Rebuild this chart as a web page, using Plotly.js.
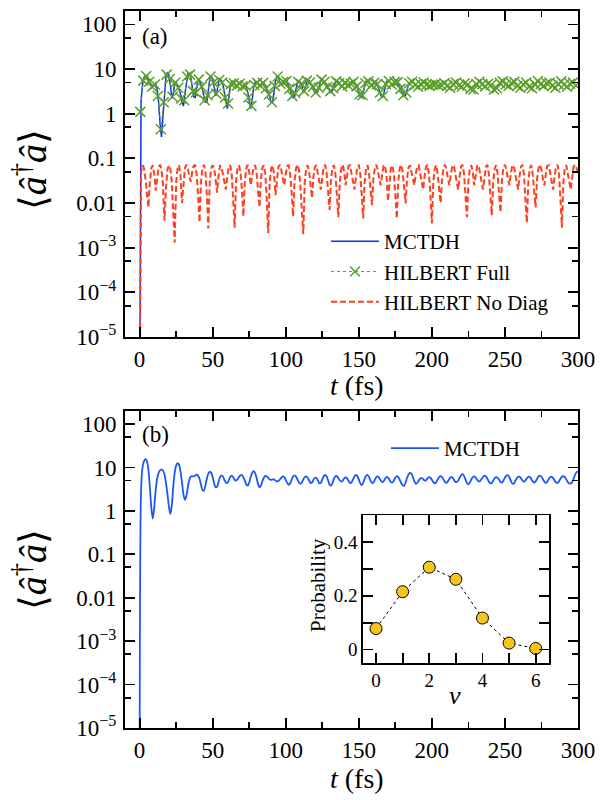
<!DOCTYPE html>
<html><head><meta charset="utf-8">
<script src="https://cdn.plot.ly/plotly-3.0.1.min.js"></script>
<style>body{margin:0;background:#fff}#c{width:600px;height:800px}</style>
</head><body><div id="c"></div>
<script>
// ---------- DATA ----------
// Panel (a): MCTDH, t = 0..185 fs, step 1 fs
const mctdhA = [1e-7,2.0,4.5,6.5,7.2,7.0,5.8,4.8,4.2,4.0,4.4,4.6,3.5,1.8,0.6,0.3,0.9,3.0,6.5,8.4,7.5,4.5,2.2,2.8,4.8,5.0,4.2,3.5,2.8,1.8,1.5,2.8,5.5,7.8,8.0,6.5,4.0,2.4,2.3,4.0,6.0,5.5,4.5,3.5,2.4,1.8,1.8,3.5,6.0,7.0,6.0,4.0,2.5,3.2,5.0,6.0,5.5,4.5,3.0,1.7,1.3,2.2,4.0,5.2,5.0,4.5,4.2,4.5,4.8,4.6,4.2,4.0,4.4,4.0,3.0,1.8,1.3,2.0,3.8,5.0,5.2,4.6,4.2,4.5,5.0,4.8,4.0,3.5,3.0,2.4,1.8,1.8,3.0,5.5,7.0,6.5,5.0,4.5,5.0,5.5,5.8,5.0,4.0,3.3,2.7,2.3,2.4,3.5,5.0,5.5,5.0,4.2,3.0,3.5,5.0,6.0,5.5,4.6,4.2,3.8,3.2,2.8,3.2,4.5,5.5,6.0,5.5,4.8,4.2,3.8,3.5,3.0,3.3,4.2,5.0,5.5,5.2,4.5,4.0,4.2,4.8,5.0,4.6,4.2,4.4,5.0,5.4,5.0,4.5,3.8,3.0,2.4,2.3,3.0,4.3,5.4,5.6,5.0,4.4,4.2,4.6,5.2,5.0,4.2,3.4,2.6,2.3,2.8,4.0,5.2,5.6,5.2,4.6,4.4,4.8,5.4,5.5,4.8,4.0,3.3,2.8,2.5,2.6,3.4,4.5,5.0];
// Panel (a): HILBERT Full, t = 0.5..298.5 fs, step 2 fs
const hilbertFull = [1.1,5.5,7.0,5.2,4.0,4.5,2.5,0.45,1.8,7.5,6.0,2.4,5.0,3.8,2.2,2.0,6.8,7.5,3.2,3.0,5.8,4.0,2.0,2.6,6.8,5.0,2.8,5.7,5.0,2.3,1.7,4.6,4.8,4.3,4.7,4.1,4.3,2.3,1.5,4.4,4.9,4.3,4.9,3.7,2.7,1.8,4.2,6.8,4.7,5.2,5.4,3.6,2.5,2.9,5.2,4.6,3.2,5.5,5.0,4.0,3.0,3.8,5.8,5.2,4.0,3.2,3.7,5.3,4.8,4.1,4.9,4.4,4.7,5.2,4.1,2.7,2.6,4.8,5.3,4.3,4.9,4.6,3.0,2.5,4.6,5.4,4.5,5.1,5.1,3.6,2.6,3.0,4.8,5.2,4.4,4.0,4.6,5.0,4.5,4.2,4.5,4.6,4.3,4.4,4.8,4.2,3.8,4.6,5.0,4.3,4.0,4.8,4.5,3.6,3.5,4.6,5.2,4.6,4.1,4.7,4.4,3.5,3.7,4.9,5.3,4.5,4.2,4.8,5.2,4.2,3.8,4.5,5.0,4.0,3.7,4.6,5.4,4.6,4.2,4.8,5.0,4.2,3.8,4.6,5.3,4.5,4.0,4.7,5.0,4.3];
// Panel (a): HILBERT No Diag, t = 0..300 fs, step 1 fs
const hilbertNoDiag = [1e-7,0.05,0.07,0.06,0.035,0.018,0.008,0.03,0.06,0.07,0.045,0.019,0.04,0.065,0.072,0.055,0.025,0.004,0.02,0.055,0.07,0.06,0.03,0.008,0.0013,0.03,0.06,0.07,0.04,0.01,0.03,0.06,0.072,0.06,0.04,0.03,0.05,0.068,0.07,0.045,0.015,0.0037,0.03,0.06,0.072,0.05,0.015,0.0027,0.03,0.06,0.07,0.06,0.035,0.017,0.04,0.068,0.065,0.045,0.028,0.02,0.04,0.065,0.07,0.045,0.012,0.0028,0.03,0.06,0.07,0.05,0.02,0.005,0.03,0.06,0.072,0.05,0.025,0.04,0.065,0.07,0.05,0.02,0.008,0.035,0.062,0.07,0.045,0.012,0.0021,0.03,0.06,0.07,0.045,0.015,0.04,0.065,0.072,0.055,0.035,0.025,0.045,0.068,0.07,0.045,0.018,0.005,0.03,0.06,0.072,0.055,0.025,0.008,0.002,0.03,0.06,0.07,0.05,0.025,0.013,0.04,0.065,0.07,0.05,0.03,0.02,0.04,0.065,0.072,0.045,0.018,0.007,0.035,0.062,0.07,0.045,0.015,0.0048,0.03,0.06,0.072,0.05,0.025,0.045,0.068,0.07,0.05,0.03,0.02,0.04,0.065,0.072,0.045,0.015,0.0045,0.03,0.06,0.07,0.045,0.02,0.009,0.035,0.062,0.072,0.055,0.035,0.025,0.045,0.068,0.07,0.04,0.011,0.035,0.062,0.07,0.045,0.015,0.0045,0.03,0.06,0.072,0.05,0.022,0.0098,0.035,0.062,0.07,0.05,0.03,0.025,0.045,0.068,0.07,0.045,0.028,0.02,0.04,0.065,0.072,0.045,0.015,0.0035,0.03,0.06,0.07,0.045,0.02,0.01,0.035,0.062,0.072,0.055,0.035,0.025,0.045,0.068,0.07,0.045,0.028,0.02,0.04,0.065,0.072,0.045,0.015,0.0048,0.03,0.06,0.07,0.05,0.025,0.045,0.068,0.07,0.05,0.03,0.02,0.04,0.065,0.072,0.045,0.015,0.0053,0.03,0.06,0.07,0.045,0.015,0.0062,0.035,0.062,0.072,0.055,0.035,0.025,0.045,0.068,0.07,0.045,0.028,0.02,0.04,0.065,0.072,0.045,0.012,0.0036,0.03,0.06,0.07,0.045,0.018,0.008,0.035,0.062,0.072,0.055,0.035,0.025,0.045,0.068,0.07,0.045,0.028,0.02,0.04,0.065,0.072,0.045,0.012,0.0028,0.03,0.06,0.07,0.05,0.03,0.02,0.04,0.065,0.072,0.06,0.05];
// Panel (b): MCTDH, t = 0..300 fs, step 1 fs
const mctdhB = [1e-7,3,10,14,15.5,14,9,3.5,1.2,0.66,1.2,3.0,5.5,7.5,8.6,8.9,8.5,7.0,4.5,2.5,1.3,0.85,1.3,3.5,7.5,11,12.5,11.5,8,4.5,2.4,1.8,2.2,3.5,5.2,6.2,6.3,6.2,6.5,6.8,6.5,5.5,4.0,3.0,2.9,3.8,5.5,7.2,8.0,7.5,6.0,4.3,3.5,3.6,4.6,6.0,6.6,6.2,5.2,4.5,4.4,5.0,6.0,6.5,6.0,5.2,5.0,5.3,6.0,6.6,6.7,6.0,5.0,4.0,3.8,4.5,6.0,7.5,8.2,7.5,5.8,4.2,3.5,3.8,4.8,5.8,6.4,6.3,5.8,5.3,5.2,5.3,5.3,5.0,4.8,4.9,5.3,5.8,6.2,6.0,5.2,4.4,4.0,4.3,5.2,6.2,6.6,6.2,5.3,4.5,4.2,4.5,5.3,6.0,6.2,5.8,5.0,4.4,4.5,5.2,5.8,5.7,5.0,4.3,4.4,5.3,6.3,6.7,6.2,5.0,4.0,3.8,4.4,5.5,6.3,6.3,5.7,5.0,4.7,5.0,5.6,5.9,5.6,4.9,4.4,4.5,5.3,6.2,6.7,6.3,5.3,4.3,3.9,4.4,5.5,6.5,6.7,6.0,5.0,4.4,4.5,5.2,6.0,6.2,5.7,5.0,4.6,4.8,5.5,6.0,5.9,5.2,4.6,4.5,5.0,5.8,6.3,6.0,5.2,4.4,3.9,3.8,4.5,5.7,6.9,7.5,7.2,6.0,4.8,4.2,4.4,5.0,5.6,5.7,5.4,5.0,5.1,5.6,6.0,5.8,5.2,4.6,4.3,4.6,5.3,6.0,6.3,6.0,5.3,4.6,4.4,4.8,5.5,6.0,5.9,5.3,4.7,4.6,5.0,5.8,6.6,7.0,6.4,5.3,4.4,4.1,4.5,5.3,6.0,6.2,5.8,5.2,4.8,4.9,5.4,6.1,6.5,6.2,5.5,4.7,4.3,4.4,5.0,5.7,6.0,5.8,5.2,4.6,4.5,5.0,5.8,6.5,6.6,6.0,5.0,4.3,4.2,4.8,5.6,6.1,6.1,5.6,5.0,4.7,5.0,5.6,6.1,6.0,5.4,4.8,4.5,4.8,5.5,6.2,6.5,6.1,5.4,4.7,4.4,4.7,5.4,6.0,6.1,5.7,5.0,4.5,4.4,4.8,5.5,6.1,6.3,6.0,5.3,4.6,4.3,4.3,4.6,5.5,6.8,7.8,8.0];
// Inset: probability distribution
const nu = [0,1,2,3,4,5,6];
const prob = [0.078,0.215,0.306,0.261,0.117,0.024,0.004];
// Tick labels
const yTickVals = [100,10,1,0.1,0.01,0.001,1e-4,1e-5];
const yTickText = ['100','10','1','0.1','0.01','10<sup>\u22123</sup>','10<sup>\u22124</sup>','10<sup>\u22125</sup>'];
const yMinorVals = [50,5,0.5,0.05,0.005,5e-4,5e-5];
const xTickVals = [0,50,100,150,200,250,300];
const insetXVals = [0,2,4,6];
const insetYVals = [0,0.2,0.4];
const insetYText = ['0','0.2','0.4'];

// ---------- STYLE ----------
const FONT = '"Liberation Serif", "DejaVu Serif", serif';
const BLUE_A = '#1030f0', BLUE_B = '#1d55ff', GREEN = '#5a9e2a', RED = '#ff4020';

const traces = [
  {x0:0, dx:1, y:mctdhA, type:'scatter', mode:'lines', name:'MCTDH',
   line:{color:BLUE_A, width:1.5}, xaxis:'x', yaxis:'y', legend:'legend'},
  {x0:0.5, dx:2, y:hilbertFull, type:'scatter', mode:'lines+markers', name:'HILBERT Full',
   line:{color:GREEN, width:1, dash:'dot'},
   marker:{symbol:'x-thin', size:10, color:GREEN, line:{color:GREEN, width:1.5}},
   xaxis:'x', yaxis:'y', legend:'legend'},
  {x0:0, dx:1, y:hilbertNoDiag, type:'scatter', mode:'lines', name:'HILBERT No Diag',
   line:{color:RED, width:2, dash:'6px,3px'}, xaxis:'x', yaxis:'y', legend:'legend'},
  {x0:0, dx:1, y:mctdhB, type:'scatter', mode:'lines', name:'MCTDH',
   line:{color:BLUE_B, width:1.8, shape:'spline', smoothing:0.8}, xaxis:'x2', yaxis:'y2', legend:'legend2'},
  {x:nu, y:prob, type:'scatter', mode:'lines+markers', showlegend:false,
   line:{color:'#000', width:1, dash:'dot'},
   marker:{symbol:'circle', size:12, color:'#f8c51c', line:{color:'#000', width:1}},
   xaxis:'x3', yaxis:'y3'}
];

const axBase = {
  showline:true, linecolor:'#000', linewidth:2, mirror:'allticks',
  ticks:'inside', ticklen:10, tickwidth:1.8, tickcolor:'#000',
  showgrid:false, zeroline:false, tickfont:{family:FONT, size:23, color:'#000'}
};
function xMain(anchor){
  return Object.assign({}, axBase, {
    domain:[125/600, 578/600], range:[-10, 300], anchor:anchor,
    tickmode:'array', tickvals:xTickVals,
    minor:{dtick:25, tick0:0, ticklen:6, tickwidth:1.8, tickcolor:'#000', ticks:'inside'}
  });
}
function yMain(domain, anchor){
  return Object.assign({}, axBase, {
    type:'log', domain:domain, range:[-5, 2.3], anchor:anchor,
    tickmode:'array', tickvals:yTickVals, ticktext:yTickText, ticklabelstandoff:2,
    minor:{tickmode:'array', tickvals:yMinorVals, ticklen:6, tickwidth:1.8, tickcolor:'#000', ticks:'inside'}
  });
}

const layout = {
  width:600, height:800,
  margin:{l:0, r:0, t:0, b:0},
  paper_bgcolor:'#fff', plot_bgcolor:'#fff',
  font:{family:FONT, color:'#000'},
  xaxis: xMain('y'),
  yaxis: yMain([1-337/800, 1-11/800], 'x'),
  xaxis2: xMain('y2'),
  yaxis2: yMain([1-728/800, 1-411/800], 'x2'),
  xaxis3: Object.assign({}, axBase, {
    domain:[362.7/600, 549/600], range:[-0.5, 6.5], anchor:'y3',
    tickmode:'array', tickvals:insetXVals,
    minor:{dtick:1, tick0:0, ticklen:10, tickwidth:1.8, tickcolor:'#000', ticks:'inside'},
    linewidth:1.5, tickfont:{family:FONT, size:19, color:'#000'}
  }),
  yaxis3: Object.assign({}, axBase, {
    domain:[1-663/800, 1-515/800], range:[-0.05, 0.5], anchor:'x3',
    tickmode:'array', tickvals:insetYVals, ticktext:insetYText,
    minor:{dtick:0.1, tick0:0, ticklen:10, tickwidth:1.8, tickcolor:'#000', ticks:'inside'},
    linewidth:1.5, tickfont:{family:FONT, size:19, color:'#000'}
  }),
  legend:{x:326/600, y:1-221/800, xanchor:'left', yanchor:'top',
    bgcolor:'rgba(0,0,0,0)', font:{family:FONT, size:21, color:'#000'},
    itemwidth:48, tracegroupgap:0, traceorder:'normal'},
  legend2:{x:386/600, y:1-428/800, xanchor:'left', yanchor:'top',
    bgcolor:'rgba(0,0,0,0)', font:{family:FONT, size:21, color:'#000'}, itemwidth:48},
  annotations:[
    {text:'(a)', x:140/600, y:1-36/800, xref:'paper', yref:'paper', xanchor:'left', yanchor:'middle', showarrow:false, font:{family:FONT, size:23}},
    {text:'(b)', x:140/600, y:1-435/800, xref:'paper', yref:'paper', xanchor:'left', yanchor:'middle', showarrow:false, font:{family:FONT, size:23}},
    {text:'\u27E8<i>\u00E2</i><sup>\u2020</sup><i>\u00E2</i>\u27E9', x:30/600, y:1-170/800, xref:'paper', yref:'paper', xanchor:'center', yanchor:'middle', textangle:-90, showarrow:false, font:{family:FONT, size:38}},
    {text:'\u27E8<i>\u00E2</i><sup>\u2020</sup><i>\u00E2</i>\u27E9', x:30/600, y:1-570/800, xref:'paper', yref:'paper', xanchor:'center', yanchor:'middle', textangle:-90, showarrow:false, font:{family:FONT, size:38}},
    {text:'<i>t</i> (fs)', x:357/600, y:1-386/800, xref:'paper', yref:'paper', xanchor:'center', yanchor:'middle', showarrow:false, font:{family:FONT, size:28}},
    {text:'<i>t</i> (fs)', x:357/600, y:1-778/800, xref:'paper', yref:'paper', xanchor:'center', yanchor:'middle', showarrow:false, font:{family:FONT, size:28}},
    {text:'Probability', x:318/600, y:1-585/800, xref:'paper', yref:'paper', xanchor:'center', yanchor:'middle', textangle:-90, showarrow:false, font:{family:FONT, size:21}},
    {text:'<i>\u03BD</i>', x:455/600, y:1-695/800, xref:'paper', yref:'paper', xanchor:'center', yanchor:'middle', showarrow:false, font:{family:FONT, size:26}}
  ]
};

Plotly.newPlot('c', traces, layout, {staticPlot:true, displayModeBar:false});
</script>
</body></html>
